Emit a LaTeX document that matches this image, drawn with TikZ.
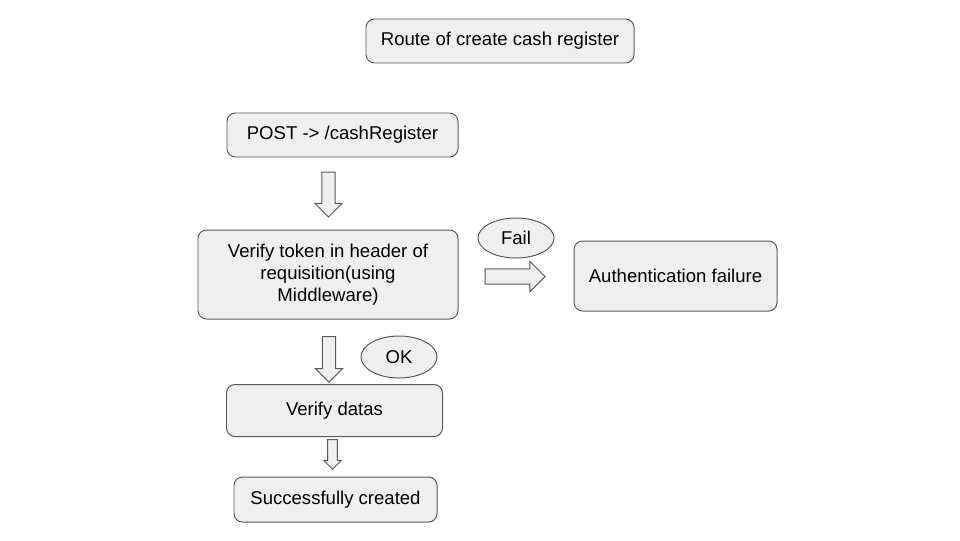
\documentclass[tikz,border=0pt]{standalone}
\usepackage{fontspec}
\setmainfont{Liberation Sans}
\usetikzlibrary{shapes.geometric, shapes.arrows, positioning}
\definecolor{BoxFill}{HTML}{EFEFEF}
\definecolor{BoxLine}{HTML}{595959}

\begin{document}
\begin{tikzpicture}[
    font=\fontsize{13.2}{15.8}\selectfont,
    box/.style={draw=BoxLine, line width=0.7pt, fill=BoxFill, rounded corners=6pt,
        align=center, inner sep=0pt},
    bubble/.style={draw=BoxLine, line width=0.7pt, fill=BoxFill, ellipse, inner sep=0pt,
        minimum width=1.9cm, minimum height=1.0cm},
    blockarrow/.style={draw=BoxLine, line width=0.7pt, fill=BoxFill, single arrow,
        single arrow tip angle=90, outer sep=0pt},
]
\useasboundingbox (0,0) rectangle (24,-13.5);

% ---- titulo ----
\node[box, minimum width=6.7cm, minimum height=1.1cm] (title) at (12.5,-1.025)
    {Route of create cash register};

% ---- flujo principal ----
\node[box, minimum width=5.775cm, minimum height=1.1cm] (post) at (8.5625,-3.375)
    {POST -> /cashRegister};
\node[box, minimum width=6.5cm, minimum height=2.225cm] (token) at (8.2,-6.8625)
    {Verify token in header of\\requisition(using\\Middleware)};
\node[box, minimum width=5.4cm, minimum height=1.3cm] (datas) at (8.3625,-10.2625)
    {Verify datas};
\node[box, minimum width=5.075cm, minimum height=1.125cm] (created) at (8.3875,-12.4875)
    {Successfully created};

% ---- rama de fallo ----
\node[box, minimum width=5.075cm, minimum height=1.75cm] (authfail) at (16.8875,-6.9)
    {Authentication failure};

% ---- flechas de bloque ----
\node[blockarrow, shape border rotate=270, minimum height=1.12cm, inner sep=0.155cm,
      single arrow head extend=0.17cm] (a1) at (8.2125,-4.78) {};
\node[blockarrow, shape border rotate=270, minimum height=1.14cm, inner sep=0.155cm,
      single arrow head extend=0.17cm] (a2) at (8.225,-8.9) {};
\node[blockarrow, shape border rotate=270, minimum height=0.74cm, inner sep=0.11cm,
      single arrow head extend=0.1cm] (a3) at (8.3125,-11.3) {};
\node[blockarrow, minimum height=1.5cm, inner sep=0.18cm,
      single arrow head extend=0.19cm] (a4) at (12.78,-6.9125) {};

% ---- etiquetas ----
\node[bubble] (fail) at (12.9,-5.95) {Fail};
\node[bubble, minimum height=1.05cm] (ok) at (9.975,-8.925) {OK};

\end{tikzpicture}
\end{document}
